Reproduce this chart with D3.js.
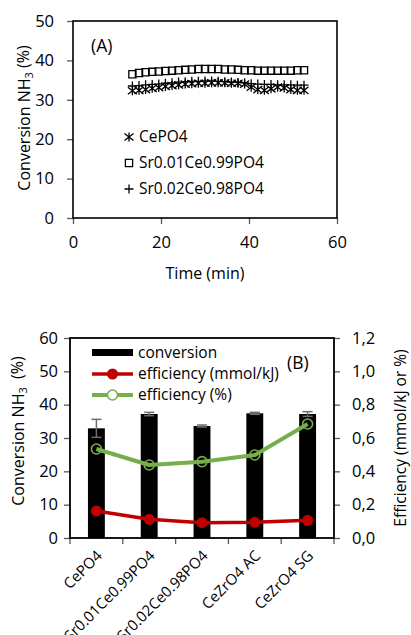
<!DOCTYPE html>
<html><head><meta charset="utf-8">
<script src="https://cdn.jsdelivr.net/npm/d3@7"></script>
<style>
html,body{margin:0;padding:0;background:#fff;}
svg{display:block;font-family:"Open Sans",sans-serif;}
</style></head>
<body>
<svg id="c" width="411" height="635"></svg>
<script>
// ---------- Data: chart A ----------
const timesA = [13.5,15,16.5,18,19.5,21,22.5,24,25.5,27,28.5,30,31.5,33,34.5,36,37.5,39,40.5,42,43.5,45,46.5,48,49.5,51,52.5];
const cePO4 = [32.3,32.4,32.6,32.9,33.1,33.4,33.6,33.8,34.0,34.1,34.2,34.2,34.3,34.3,34.3,34.2,34.2,34.0,33.2,32.6,32.4,32.8,33.2,33.0,32.6,32.4,32.4];
const sr001 = [36.5,36.8,37.0,37.1,37.2,37.3,37.4,37.5,37.6,37.7,37.8,37.8,37.8,37.8,37.7,37.7,37.6,37.5,37.5,37.4,37.4,37.4,37.4,37.4,37.4,37.5,37.5];
const sr002 = [33.5,33.6,33.8,33.9,34.0,34.2,34.3,34.5,34.6,34.7,34.7,34.8,34.8,34.7,34.6,34.5,34.4,34.3,34.1,34.0,33.9,33.9,33.8,33.8,33.8,33.7,33.7];
const seriesNamesA = ["CePO4","Sr0.01Ce0.99PO4","Sr0.02Ce0.98PO4"];
const xTicksA = [0,20,40,60];
const yTicksA = [0,10,20,30,40,50];

// ---------- Data: chart B ----------
const categoriesB = ["CePO4","Sr0.01Ce0.99PO4","Sr0.02Ce0.98PO4","CeZrO4 AC","CeZrO4 SG"];
const conversionB = [32.9,37.2,33.6,37.4,37.2];
const conversionErr = [2.7,0.5,0.3,0.3,0.7];
const effMmol = [0.162,0.112,0.092,0.094,0.106];
const effPct = [0.534,0.438,0.458,0.498,0.684];
const yTicksB = [0,10,20,30,40,50,60];
const yTicksR = [0,0.2,0.4,0.6,0.8,1.0,1.2];
const legendB = ["conversion","efficiency (mmol/kJ)","efficiency (%)"];

const svg = d3.select("#c");
const TXT = "#000";
const TICK = "#595959";
const GREEN = "#77AE4C";
const RED = "#C00000";

// ================= Chart A =================
const xA = d3.scaleLinear().domain([0,60]).range([73,337]);
const yA = d3.scaleLinear().domain([0,50]).range([218,21]);

const gA = svg.append("g");
const axLA = gA.append("g").attr("transform",`translate(${xA(0)},0)`)
  .call(d3.axisLeft(yA).tickValues(yTicksA).tickSize(6).tickPadding(13).tickFormat(d3.format("d")));
const axBA = gA.append("g").attr("transform",`translate(0,${yA(0)})`)
  .call(d3.axisBottom(xA).tickValues(xTicksA).tickSize(6).tickPadding(12).tickFormat(d3.format("d")));
[axLA,axBA].forEach(a=>{
  a.select(".domain").remove();
  a.selectAll(".tick line").attr("stroke",TICK).attr("stroke-width",1.3);
  a.selectAll(".tick text").attr("font-size",16.5).attr("fill",TXT).attr("font-family","Open Sans");
});
gA.append("rect").attr("x",xA(0)).attr("y",yA(50)).attr("width",xA(60)-xA(0)).attr("height",yA(0)-yA(50))
  .attr("fill","none").attr("stroke","#000").attr("stroke-width",1.6);

const h = 4.5;
const shapes = {
  star: `M0,${-h}L0,${h}M${-h},${-h*0.8}L${h},${h*0.8}M${-h},${h*0.8}L${h},${-h*0.8}`,
  square: `M-3.6,-3.6h7.2v7.2h-7.2Z`,
  plus: `M${-h},0L${h},0M0,${-h}L0,${h}`
};
const seriesA = [
  {name:seriesNamesA[0], vals:cePO4, shape:"star"},
  {name:seriesNamesA[1], vals:sr001, shape:"square"},
  {name:seriesNamesA[2], vals:sr002, shape:"plus"}
];
seriesA.forEach(s=>{
  gA.append("g").selectAll("path").data(s.vals).join("path")
    .attr("transform",(d,i)=>`translate(${xA(timesA[i])},${yA(d)})`)
    .attr("d",shapes[s.shape]).attr("fill","none").attr("stroke","#000").attr("stroke-width",1.3);
});
seriesA.forEach((s,i)=>{
  const y = 137 + i*26;
  gA.append("path").attr("transform",`translate(129,${y})`).attr("d",shapes[s.shape])
    .attr("fill","none").attr("stroke","#000").attr("stroke-width",1.3);
  gA.append("text").attr("x",139).attr("y",y).attr("dy","0.35em").attr("font-size",15.5).attr("fill",TXT).text(s.name);
});
gA.append("text").attr("x",91).attr("y",46).attr("dy","0.35em").attr("font-size",17.5).attr("fill",TXT).text("(A)");
gA.append("text").attr("x",205).attr("y",273).attr("dy","0.35em").attr("text-anchor","middle").attr("font-size",16).attr("fill",TXT).text("Time (min)");
const tA = gA.append("text").attr("transform","translate(24,118) rotate(-90)").attr("dy","0.35em").attr("text-anchor","middle").attr("font-size",16).attr("fill",TXT);
tA.append("tspan").text("Conversion NH");
tA.append("tspan").attr("font-size",11).attr("dy","0.35em").text("3");
tA.append("tspan").attr("dy","-0.25em").text(" (%)");

// ================= Chart B =================
const xB = d3.scaleBand().domain(categoriesB).range([70,334]);
const yB = d3.scaleLinear().domain([0,60]).range([538,338]);
const yR = d3.scaleLinear().domain([0,1.2]).range([538,338]);
const gB = svg.append("g");
const bw = xB.bandwidth();
const cx = c => xB(c)+bw/2;

const axLB = gB.append("g").attr("transform",`translate(70,0)`)
  .call(d3.axisLeft(yB).tickValues(yTicksB).tickSize(6).tickPadding(6).tickFormat(d3.format("d")));
const axRB = gB.append("g").attr("transform",`translate(334,0)`)
  .call(d3.axisRight(yR).tickValues(yTicksR).tickSize(6).tickPadding(12).tickFormat(d=>d3.format(".1f")(d).replace(".",",")));
[axLB,axRB].forEach(a=>{
  a.select(".domain").remove();
  a.selectAll(".tick line").attr("stroke",TICK).attr("stroke-width",1.3);
  a.selectAll(".tick text").attr("font-size",16.5).attr("fill",TXT).attr("font-family","Open Sans");
});
const edges = categoriesB.map(c=>xB(c)).concat([xB.range()[1]]);
gB.append("g").selectAll("line").data(edges).join("line")
  .attr("x1",d=>d).attr("x2",d=>d).attr("y1",538).attr("y2",544).attr("stroke",TICK).attr("stroke-width",1.3);
const barW = bw*0.32;
gB.append("g").selectAll("rect").data(conversionB).join("rect")
  .attr("x",(d,i)=>cx(categoriesB[i])-barW/2).attr("y",d=>yB(d))
  .attr("width",barW).attr("height",d=>yB(0)-yB(d)).attr("fill","#000");
const eg = gB.append("g").attr("stroke","#6d6d6d").attr("stroke-width",1.5);
conversionB.forEach((d,i)=>{
  const x = cx(categoriesB[i]);
  eg.append("line").attr("x1",x).attr("x2",x).attr("y1",yB(d+conversionErr[i])).attr("y2",yB(d-conversionErr[i]));
  eg.append("line").attr("x1",x-5).attr("x2",x+5).attr("y1",yB(d+conversionErr[i])).attr("y2",yB(d+conversionErr[i]));
  eg.append("line").attr("x1",x-5).attr("x2",x+5).attr("y1",yB(d-conversionErr[i])).attr("y2",yB(d-conversionErr[i]));
});
gB.append("rect").attr("x",70).attr("y",338).attr("width",264).attr("height",200)
  .attr("fill","none").attr("stroke","#000").attr("stroke-width",1.8);
const lineR = d3.line().x((d,i)=>cx(categoriesB[i])).y(d=>yR(d));
gB.append("path").attr("d",lineR(effMmol)).attr("fill","none").attr("stroke",RED).attr("stroke-width",3.5).attr("stroke-linejoin","round");
gB.append("g").selectAll("circle").data(effMmol).join("circle")
  .attr("cx",(d,i)=>cx(categoriesB[i])).attr("cy",d=>yR(d)).attr("r",5.5).attr("fill",RED);
gB.append("path").attr("d",lineR(effPct)).attr("fill","none").attr("stroke",GREEN).attr("stroke-width",4).attr("stroke-linejoin","round");
gB.append("g").selectAll("circle").data(effPct).join("circle")
  .attr("cx",(d,i)=>cx(categoriesB[i])).attr("cy",d=>yR(d)).attr("r",5).attr("fill","none").attr("stroke",GREEN).attr("stroke-width",1.6);
gB.append("g").selectAll("text").data(categoriesB).join("text")
  .attr("transform",c=>`translate(${cx(c)+3},${553}) rotate(-45)`)
  .attr("text-anchor","end").attr("dy","0.35em").attr("font-size",15).attr("fill",TXT).text(d=>d);
const lg = gB.append("g");
lg.append("rect").attr("x",92).attr("y",349).attr("width",41).attr("height",7).attr("fill","#000");
lg.append("line").attr("x1",92).attr("x2",133).attr("y1",374).attr("y2",374).attr("stroke",RED).attr("stroke-width",3.5);
lg.append("circle").attr("cx",112.5).attr("cy",374).attr("r",5.5).attr("fill",RED);
lg.append("line").attr("x1",92).attr("x2",133).attr("y1",395).attr("y2",395).attr("stroke",GREEN).attr("stroke-width",4);
lg.append("circle").attr("cx",112.5).attr("cy",395).attr("r",5).attr("fill","#fff").attr("stroke",GREEN).attr("stroke-width",1.6);
legendB.forEach((t,i)=>{
  lg.append("text").attr("x",138).attr("y",353+i*21).attr("dy","0.35em").attr("font-size",15.5).attr("fill",TXT).text(t);
});
gB.append("text").attr("x",287).attr("y",363).attr("dy","0.35em").attr("font-size",17.5).attr("fill",TXT).text("(B)");
const tB = gB.append("text").attr("transform","translate(18,431) rotate(-90)").attr("dy","0.35em").attr("text-anchor","middle").attr("font-size",16).attr("fill",TXT);
tB.append("tspan").text("Conversion NH");
tB.append("tspan").attr("font-size",11).attr("dy","0.35em").text("3");
tB.append("tspan").attr("dy","-0.25em").text("\u00a0 (%)");
gB.append("text").attr("transform","translate(401,438) rotate(-90)").attr("dy","0.35em").attr("text-anchor","middle").attr("font-size",15.5).attr("fill",TXT).text("Efficiency (mmol/kJ or %)");
</script>
</body></html>
